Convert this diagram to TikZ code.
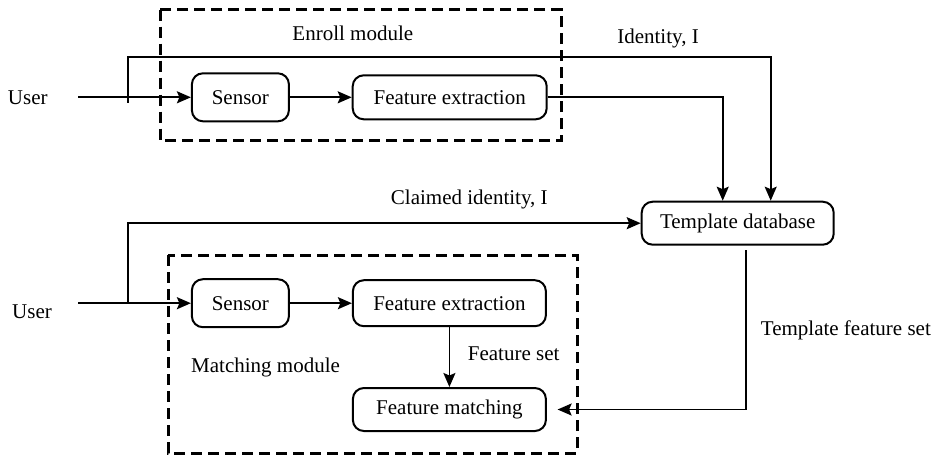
\documentclass[tikz,border=0pt]{standalone}
\usepackage{fontspec}
\setmainfont{Liberation Serif}
\usetikzlibrary{arrows.meta}
\begin{document}
\begin{tikzpicture}[x=1pt,y=-1pt,
  every node/.style={font=\fontsize{21}{25}\selectfont},
  txt/.style={inner sep=0pt},
  blk/.style={draw, line width=2pt, rounded corners=11pt, inner sep=0pt, align=center},
  conn/.style={line width=1.8pt},
  arr/.style={conn, -{Stealth[length=14pt,width=12pt,inset=2.5pt]}},
  modbox/.style={draw, line width=3pt, dash pattern=on 11pt off 6pt},
]
\useasboundingbox[fill=white] (0,0) rectangle (933,459);

% module boxes
\draw[modbox] (160,9.5) rectangle (561.5,140.5);
\draw[modbox] (168,255) rectangle (577,453);

% blocks
\node[blk, minimum width=97pt, minimum height=48pt] (s1) at (240.4,97.3) {Sensor};
\node[blk, minimum width=194pt, minimum height=44pt] (f1) at (449.7,97.3) {Feature extraction};
\node[blk, minimum width=192pt, minimum height=43pt] (db) at (737.7,223.2) {Template database};
\node[blk, minimum width=97pt, minimum height=48pt] (s2) at (240.4,303.2) {Sensor};
\node[blk, minimum width=193pt, minimum height=46pt] (f2) at (449.4,303.2) {Feature extraction};
\node[blk, minimum width=193pt, minimum height=43pt] (fm) at (449.4,409.5) {Feature matching};

% labels
\node[txt] (u1) at (27.8,97.7) {User};
\node[txt] (u2) at (32,312) {User};
\node[txt] (em) at (352.8,33.3) {Enroll module};
\node[txt] (idl) at (658,38.5) {Identity, I};
\node[txt] (cil) at (469.3,199.3) {Claimed identity, I};
\node[txt, anchor=west] (mm) at (191,367.7) {Matching module};
\node[txt, anchor=west] (fsl) at (467.7,353.3) {Feature set};
\node[txt, anchor=east] (tfl) at (931,330) {Template feature set};

% free ends
\coordinate (u1s) at (78.3,97.3);
\coordinate (j1) at (127.7,102.7);
\coordinate (j1t) at (127.7,57.3);
\coordinate (u2s) at (78.3,303.2);
\coordinate (j2) at (127.7,303.2);

% connectors
\draw[arr] (u1s) -- (s1.west);
\draw[arr] (s1.east) -- (f1.west);
\draw[arr] (j1) -- (j1t) -| ([xshift=33pt]db.north);
\draw[arr] (f1.east) -| ([xshift=-15pt]db.north);
\draw[arr] (u2s) -- (s2.west);
\draw[arr] (s2.east) -- (f2.west);
\draw[arr] (j2) |- (db.west);
\draw[arr] (f2.south) -- (fm.north);
\draw[arr] ([xshift=8.3pt,yshift=-4.5pt]db.south) |- ([xshift=10.7pt]fm.east);
\end{tikzpicture}
\end{document}
